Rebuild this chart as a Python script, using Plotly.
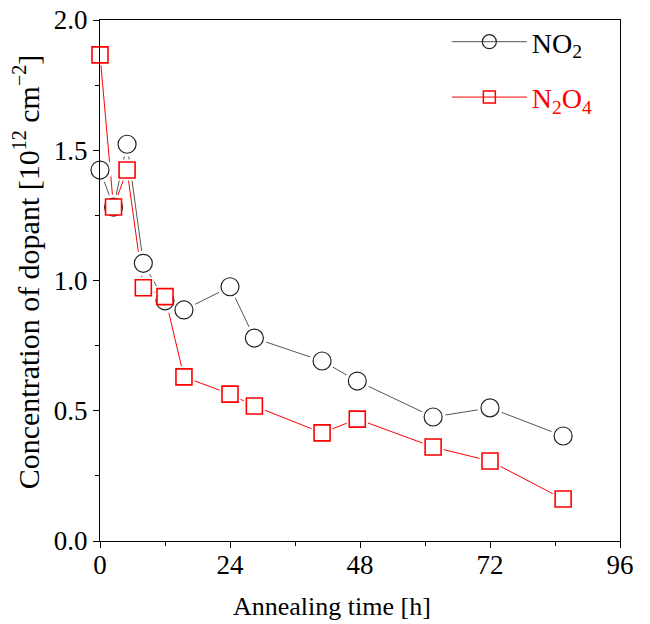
import plotly.graph_objects as go

# Data
time_no2 = [0, 2.5, 5, 8, 12, 15.5, 24, 28.5, 41, 47.5, 61.5, 72, 85.5]
conc_no2 = [1.424, 1.282, 1.523, 1.066, 0.922, 0.887, 0.976, 0.779, 0.691, 0.614, 0.476, 0.511, 0.403]

time_n2o4 = [0, 2.5, 5, 8, 12, 15.5, 24, 28.5, 41, 47.5, 61.5, 72, 85.5]
conc_n2o4 = [1.866, 1.282, 1.424, 0.972, 0.938, 0.630, 0.564, 0.518, 0.415, 0.468, 0.361, 0.307, 0.161]

x_ticks = [0, 24, 48, 72, 96]
y_ticks = [0.0, 0.5, 1.0, 1.5, 2.0]

x_title = "Annealing time [h]"
y_title = ("Concentration of dopant [10<sup><span style='font-size:20px'>12</span></sup>"
           " cm<sup><span style='font-size:20px'>\u22122</span></sup>]")

FONT = "Liberation Serif"
BLACK_LINE = "#555555"
RED = "#ff0000"

fig = go.Figure()

# connecting lines (with legend)
fig.add_trace(go.Scatter(
    x=time_no2, y=conc_no2, mode="lines+markers", name="NO<sub>2</sub>",
    line=dict(color=BLACK_LINE, width=1),
    marker=dict(symbol="circle-open", size=14, color="#222222", line=dict(width=1.2)),
    legendgroup="a", cliponaxis=False))
fig.add_trace(go.Scatter(
    x=time_n2o4, y=conc_n2o4, mode="lines+markers",
    name="<span style='color:#ff0000'>N<sub>2</sub>O<sub>4</sub></span>",
    line=dict(color=RED, width=1),
    marker=dict(symbol="square-open", size=12, color=RED, line=dict(width=1.5)),
    legendgroup="b", cliponaxis=False))

# white backdrops giving the gap between lines and markers
fig.add_trace(go.Scatter(
    x=time_no2, y=conc_no2, mode="markers", showlegend=False, hoverinfo="skip",
    marker=dict(symbol="circle", size=25, color="white", line=dict(width=0)),
    cliponaxis=False))
fig.add_trace(go.Scatter(
    x=time_n2o4, y=conc_n2o4, mode="markers", showlegend=False, hoverinfo="skip",
    marker=dict(symbol="square", size=21, color="white", line=dict(width=0)),
    cliponaxis=False))

# visible markers
fig.add_trace(go.Scatter(
    x=time_no2, y=conc_no2, mode="markers", showlegend=False,
    marker=dict(symbol="circle", size=18, color="white", line=dict(color="#222222", width=1.2)),
    cliponaxis=False))
fig.add_trace(go.Scatter(
    x=time_n2o4, y=conc_n2o4, mode="markers", showlegend=False,
    marker=dict(symbol="square", size=16, color="white", line=dict(color=RED, width=1.6)),
    cliponaxis=False))

fig.update_layout(
    width=650, height=624,
    margin=dict(l=100, r=30, t=20, b=83, autoexpand=False),
    paper_bgcolor="white", plot_bgcolor="white",
    font=dict(family=FONT, size=27, color="black"),
    showlegend=True,
    legend=dict(x=0.667, y=0.9728, xref="paper", yref="container",
                xanchor="left", yanchor="top",
                bgcolor="rgba(0,0,0,0)", borderwidth=0,
                font=dict(family=FONT, size=28),
                itemwidth=75, tracegroupgap=16),
    xaxis=dict(
        range=[0, 96], tickvals=x_ticks, ticktext=[str(v) for v in x_ticks],
        showgrid=False, zeroline=False, automargin=False,
        showline=True, linecolor="black", linewidth=1, mirror=True,
        ticks="outside", ticklen=6, tickcolor="black",
        minor=dict(dtick=12, ticks="outside", ticklen=4, tickcolor="black"),
        tickfont=dict(family=FONT, size=27), ticklabelstandoff=-6,
        ticklabeloverflow="allow",
    ),
    yaxis=dict(
        range=[0, 2], tickvals=y_ticks, ticktext=[f"{v:.1f}" for v in y_ticks],
        showgrid=False, zeroline=False, automargin=False,
        showline=True, linecolor="black", linewidth=1, mirror=True,
        ticks="outside", ticklen=6, tickcolor="black",
        minor=dict(dtick=0.25, ticks="outside", ticklen=4, tickcolor="black"),
        tickfont=dict(family=FONT, size=27), ticklabeloverflow="allow",
    ),
    annotations=[
        dict(text=x_title, xref="paper", yref="paper", x=0.446, y=-0.125,
             xanchor="center", yanchor="middle", showarrow=False,
             font=dict(family=FONT, size=26)),
        dict(text=y_title, xref="paper", yref="paper", x=-0.142, y=0.516,
             xanchor="center", yanchor="middle", showarrow=False, textangle=-90,
             font=dict(family=FONT, size=30)),
    ],
)

fig.write_html("out.html", config={"displayModeBar": False},
               post_script="document.body.style.margin='0';")
